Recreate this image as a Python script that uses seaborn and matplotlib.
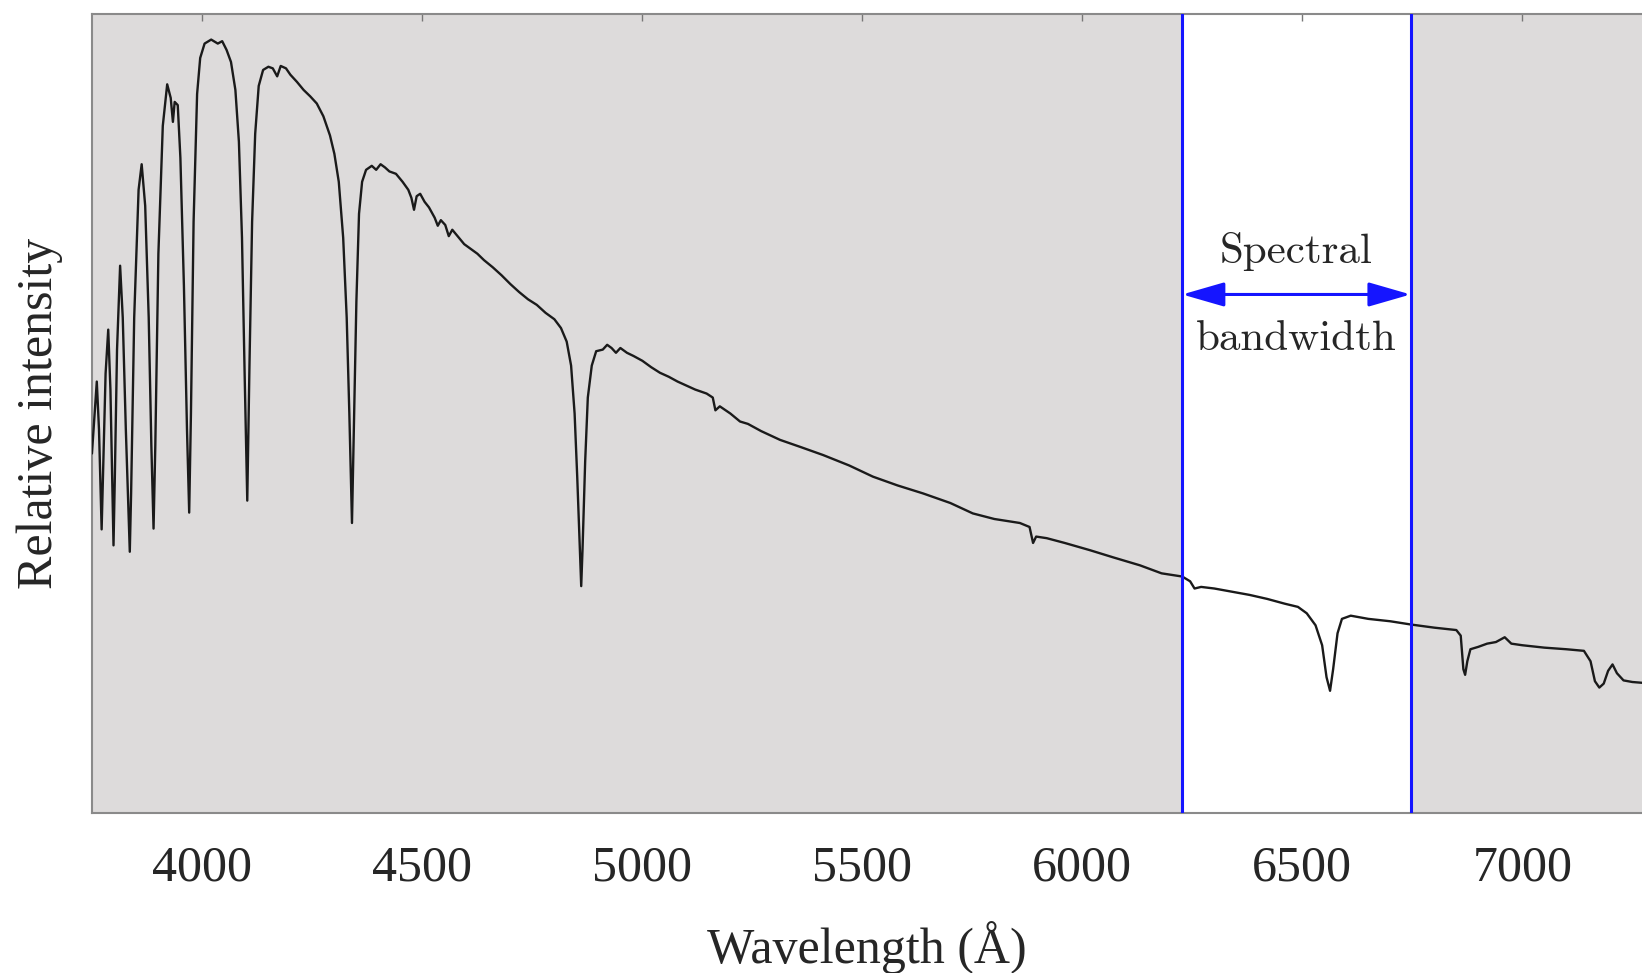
import seaborn as sns
import matplotlib.pyplot as plt

# spectrum (wavelength in Angstrom, relative intensity 0..1)
wavelength = [
    3749, 3755, 3760, 3765, 3769, 3771, 3774, 3780, 3786, 3791, 3795, 3798, 3801, 3806,
    3813, 3819, 3826, 3832, 3835, 3838, 3845, 3855, 3862, 3870, 3878, 3884, 3889, 3893,
    3900, 3910, 3920, 3928, 3933, 3937, 3944, 3950, 3958, 3965, 3970, 3974, 3980, 3988,
    3995, 4005, 4020, 4035, 4045, 4055, 4065, 4075, 4083, 4090, 4096, 4102, 4107, 4113,
    4120, 4128, 4138, 4150, 4160, 4170, 4178, 4190, 4200, 4215, 4230, 4245, 4260, 4275,
    4290, 4300, 4310, 4320, 4328, 4334, 4340, 4345, 4350, 4356, 4363, 4372, 4385, 4395,
    4405, 4415, 4425, 4440, 4455, 4468, 4475, 4481, 4487, 4495, 4505, 4515, 4528, 4535,
    4542, 4552, 4560, 4568, 4580, 4595, 4610, 4625, 4640, 4660, 4680, 4700, 4720, 4740,
    4760, 4780, 4800, 4815, 4828, 4838, 4846, 4852, 4858, 4861, 4864, 4870, 4876, 4885,
    4895, 4910, 4920, 4930, 4940, 4950, 4965, 4980, 5000, 5020, 5040, 5060, 5080, 5100,
    5120, 5146, 5160, 5166, 5176, 5200, 5222, 5240, 5270, 5313, 5360, 5411, 5470, 5524,
    5580, 5638, 5700, 5751, 5800, 5858, 5880, 5888, 5895, 5919, 5960, 6017, 6070, 6131,
    6180, 6227, 6245, 6255, 6270, 6300, 6320, 6350, 6380, 6420, 6460, 6490, 6510, 6530,
    6545, 6555, 6563, 6570, 6580, 6590, 6610, 6650, 6700, 6746, 6800, 6850, 6860, 6866,
    6870, 6875, 6882, 6900, 6920, 6940, 6960, 6975, 7000, 7050, 7100, 7140, 7155, 7165,
    7175, 7185, 7195, 7205, 7215, 7230, 7250, 7272,
]
intensity = [
    0.450, 0.500, 0.540, 0.480, 0.400, 0.355, 0.420, 0.550, 0.605, 0.530, 0.420, 0.335, 0.420, 0.580,
    0.685, 0.620, 0.480, 0.380, 0.327, 0.400, 0.620, 0.780, 0.812, 0.760, 0.620, 0.460, 0.356, 0.460,
    0.700, 0.860, 0.912, 0.895, 0.865, 0.890, 0.886, 0.820, 0.660, 0.480, 0.376, 0.500, 0.740, 0.900,
    0.945, 0.963, 0.968, 0.963, 0.966, 0.955, 0.940, 0.905, 0.840, 0.720, 0.550, 0.391, 0.560, 0.740,
    0.850, 0.910, 0.930, 0.934, 0.932, 0.922, 0.935, 0.932, 0.924, 0.915, 0.905, 0.897, 0.888, 0.872,
    0.848, 0.825, 0.790, 0.720, 0.620, 0.500, 0.363, 0.500, 0.640, 0.750, 0.790, 0.805, 0.810, 0.805,
    0.812, 0.808, 0.803, 0.800, 0.790, 0.780, 0.770, 0.755, 0.772, 0.775, 0.765, 0.758, 0.745, 0.735,
    0.742, 0.736, 0.722, 0.730, 0.722, 0.712, 0.706, 0.700, 0.692, 0.683, 0.673, 0.662, 0.652, 0.643,
    0.636, 0.626, 0.618, 0.607, 0.590, 0.560, 0.500, 0.420, 0.330, 0.284, 0.330, 0.440, 0.520, 0.560,
    0.578, 0.580, 0.586, 0.582, 0.576, 0.582, 0.576, 0.572, 0.566, 0.558, 0.551, 0.546, 0.540, 0.535,
    0.530, 0.525, 0.520, 0.504, 0.509, 0.500, 0.490, 0.487, 0.478, 0.467, 0.458, 0.448, 0.435, 0.421,
    0.410, 0.400, 0.388, 0.375, 0.368, 0.363, 0.358, 0.338, 0.346, 0.344, 0.338, 0.329, 0.320, 0.310,
    0.300, 0.296, 0.290, 0.281, 0.283, 0.281, 0.279, 0.276, 0.273, 0.268, 0.262, 0.258, 0.250, 0.235,
    0.210, 0.170, 0.153, 0.180, 0.225, 0.243, 0.247, 0.243, 0.240, 0.236, 0.232, 0.229, 0.222, 0.180,
    0.173, 0.190, 0.205, 0.208, 0.212, 0.214, 0.220, 0.212, 0.210, 0.207, 0.205, 0.203, 0.190, 0.165,
    0.157, 0.162, 0.178, 0.186, 0.175, 0.166, 0.164, 0.163,
]

band = [6227, 6746]
xticks = [4000, 4500, 5000, 5500, 6000, 6500, 7000]

sns.set_style("white")
plt.rcParams["font.family"] = ["Liberation Serif", "DejaVu Serif"]

fig = plt.figure(figsize=(16.42, 9.73), dpi=100)
ax = fig.add_axes([0.056, 0.1644, 0.944, 0.8212])
ax.set_facecolor("#dddbdb")

ax.axvspan(band[0], band[1], color="white", zorder=0)
sns.lineplot(x=wavelength, y=intensity, ax=ax, color="#1a1a1a", linewidth=1.7,
             estimator=None, sort=False, zorder=3)
for b in band:
    ax.axvline(b, color="#1515ff", linewidth=2.2, zorder=4)

# double arrow + label
ax.annotate("", xy=(band[0], 0.649), xytext=(band[1], 0.649),
            arrowprops=dict(arrowstyle="<|-|>,head_length=2.6,head_width=0.75",
                            color="#1515ff", lw=2.2, shrinkA=0, shrinkB=0), zorder=5)
mid = (band[0] + band[1]) / 2
ax.text(mid, 0.703, "Spectral", family="cmr10", fontsize=31, ha="center", va="center")
ax.text(mid, 0.593, "bandwidth", family="cmr10", fontsize=31, ha="center", va="center")

ax.set_xlim(3749, 7272)
ax.set_ylim(0, 1)
ax.set_xticks(xticks)
ax.set_yticks([])
ax.tick_params(axis="x", direction="in", top=True, length=5, width=1, color="#777777",
               labelsize=36, pad=23)
for side in ["left", "bottom", "top"]:
    ax.spines[side].set_color("#8a8a8a")
    ax.spines[side].set_linewidth(1.5)
ax.spines["right"].set_visible(False)

ax.set_xlabel("Wavelength (Å)", fontsize=36, labelpad=21)
ax.set_ylabel("Relative intensity", fontsize=36, labelpad=21)

fig.savefig("out.png", dpi=100)
